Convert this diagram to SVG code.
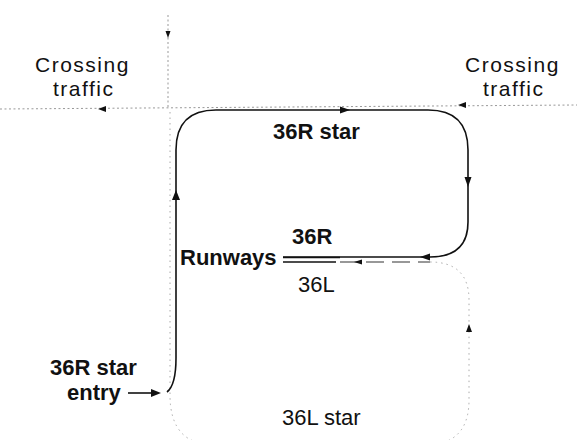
<svg xmlns="http://www.w3.org/2000/svg" width="577" height="440" viewBox="0 0 577 440">
<style>
.lbl{font-family:"Liberation Sans",Arial,sans-serif;font-size:22px;fill:#111}
.b{font-weight:bold}
.cr{font-size:21px;letter-spacing:1.5px}
.solid{fill:none;stroke:#111;stroke-width:1.6}
.dot{fill:none;stroke:#999;stroke-width:1;stroke-dasharray:2 2.5}
.faint{fill:none;stroke:#aaa;stroke-width:1;stroke-dasharray:1.5 4}
.dash{fill:none;stroke:#333;stroke-width:1.2;stroke-dasharray:18 8}
.ah{fill:#111}
</style>
<rect width="577" height="440" fill="#fff"/>
<g id="connectors">
  <!-- crossing traffic dotted lines -->
  <path class="dot" d="M0,109 L577,105"/>
  <path class="dot" d="M168,15 L168,108"/>
  <!-- 36L star dotted loop -->
  <path class="faint" d="M170,112 V395 Q170,445 215,445 H425 Q469,445 469,400 V300 Q469,262 430,262"/>
  <!-- 36L runway -->
  <path class="solid" d="M283,262 H336" stroke-width="2"/>
  <path class="dash" d="M340,262 H430"/>
  <!-- 36R star solid route -->
  <path class="solid" d="M167,392 Q176,385 176,358 V150 Q176,110 216,110 H428 Q468,110 468,150 V222 Q468,257 430,257 H283"/>
  <path class="solid" d="M283,257.5 H340" stroke-width="2.2"/>
  <!-- entry arrow -->
  <path class="solid" d="M128,393 H152"/>
  <!-- arrowheads -->
  <polygon class="ah" points="161,393 151,389 151,397"/>
  <polygon class="ah" points="176,190 172,200 180,200"/>
  <polygon class="ah" points="350,110 340,106.5 340,113.5"/>
  <polygon class="ah" points="468,187 464.5,177 471.5,177"/>
  <polygon class="ah" points="420,257 430,253.5 430,260.5"/>
  <polygon class="ah" points="354,262 362,259.5 362,264.5"/>
  <polygon class="ah" points="469,324 466,332 472,332"/>
  <polygon class="ah" points="98,109 106,106 106,112"/>
  <polygon class="ah" points="458,105 466,102 466,108"/>
  <polygon class="ah" points="168,38 165.5,31 170.5,31"/>
</g>
<g id="crossing-left"><text class="lbl cr" x="35" y="72">Crossing</text><text class="lbl cr" x="53" y="96">traffic</text></g>
<g id="crossing-right"><text class="lbl cr" x="465" y="72">Crossing</text><text class="lbl cr" x="483" y="96">traffic</text></g>
<g id="star-36r"><text class="lbl b" x="273" y="139">36R star</text></g>
<g id="runway-36r"><text class="lbl b" x="292" y="244">36R</text></g>
<g id="runways"><text class="lbl b" x="180" y="265">Runways</text></g>
<g id="runway-36l"><text class="lbl" x="298" y="292">36L</text></g>
<g id="star-36r-entry"><text class="lbl b" x="50" y="375">36R star</text><text class="lbl b" x="67" y="400">entry</text></g>
<g id="star-36l"><text class="lbl" x="282" y="425">36L star</text></g>
</svg>
